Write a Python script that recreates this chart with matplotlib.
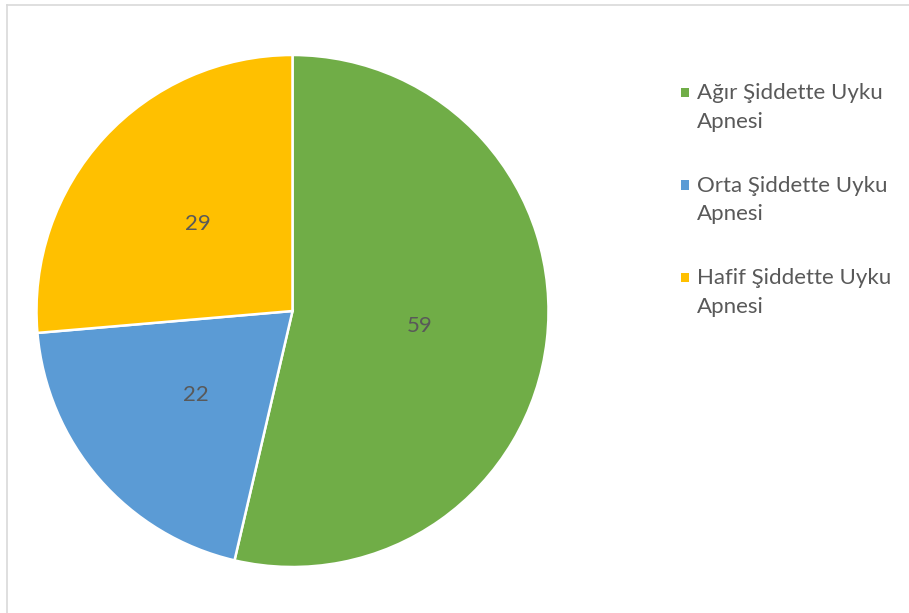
import matplotlib
matplotlib.use("Agg")
import matplotlib.pyplot as plt
from matplotlib.lines import Line2D
from matplotlib.patches import Rectangle

categories = ["Ağır Şiddette Uyku\nApnesi", "Orta Şiddette Uyku\nApnesi", "Hafif Şiddette Uyku\nApnesi"]
values = [59, 22, 29]
colors = ["#70AD47", "#5B9BD5", "#FFC000"]

plt.rcParams['font.family'] = ['Lato', 'DejaVu Sans']
text_color = "#595959"

W, H = 909, 613
fig = plt.figure(figsize=(W / 100, H / 100), dpi=100)

cx, cy, r = 292.5, 311, 256
ax = fig.add_axes([(cx - r) / W, (H - cy - r) / H, 2 * r / W, 2 * r / H])
total = sum(values)
wedges, texts, autotexts = ax.pie(
    values, colors=colors, startangle=90, counterclock=False,
    autopct=lambda p: f"{round(p * total / 100)}", pctdistance=0.5,
    wedgeprops=dict(edgecolor="white", linewidth=1.8),
    textprops=dict(color=text_color, fontsize=16),
    radius=1.0,
)
ax.set_xlim(-1.0, 1.0)
ax.set_ylim(-1.0, 1.0)
ax.set_aspect("equal")
ax.axis("off")

# legend: square swatch beside the first line of each two-line label
first_baseline = 99
entry_step = 92.5
for i, (lab, col) in enumerate(zip(categories, colors)):
    yb = first_baseline + i * entry_step
    fig.add_artist(Rectangle(((681) / W, 1 - (yb - 2) / H), 8 / W, 9 / H,
                             transform=fig.transFigure, facecolor=col, edgecolor="none"))
    fig.text(697 / W, 1 - (yb - 16) / H, lab, ha="left", va="top", fontsize=16,
             color=text_color, linespacing=1.55)

# thin frame on the top and left edges
fig.add_artist(Line2D([6.5 / W, 6.5 / W], [0, 1 - 4.5 / H], transform=fig.transFigure,
                      color="#d9d9d9", linewidth=1.2))
fig.add_artist(Line2D([6.5 / W, 1], [1 - 4.5 / H, 1 - 4.5 / H], transform=fig.transFigure,
                      color="#d9d9d9", linewidth=1.2))

fig.savefig("out.png", dpi=100, facecolor="white")
